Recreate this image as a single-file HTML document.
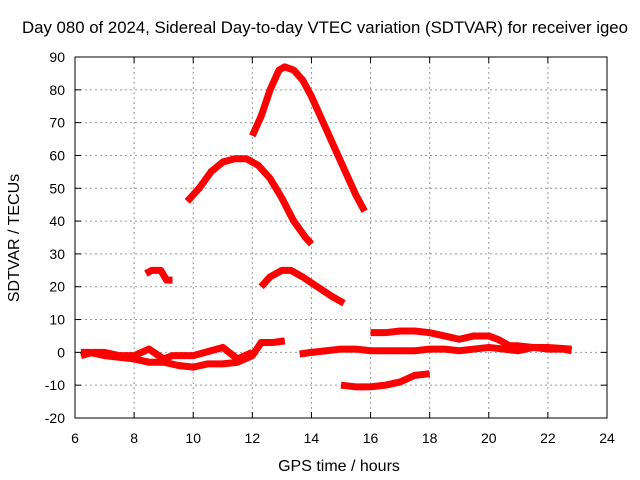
<!DOCTYPE html>
<html><head><meta charset="utf-8"><style>
body{margin:0;background:#fff;}
svg{display:block;font-family:"Liberation Sans",sans-serif;}
</style></head><body>
<svg id="chart" width="640" height="480">
<text x="325" y="33" text-anchor="middle" font-size="16.8">Day 080 of 2024, Sidereal Day-to-day VTEC variation (SDTVAR) for receiver igeo</text>
<text x="339" y="471" text-anchor="middle" font-size="16">GPS time / hours</text>
<text transform="translate(19,238) rotate(-90)" text-anchor="middle" font-size="16">SDTVAR / TECUs</text>
<g id="grid"></g><g id="series"></g><g id="axes"></g>
</svg>
<script>
const xTicks=[6,8,10,12,14,16,18,20,22,24];
const yTicks=[-20,-10,0,10,20,30,40,50,60,70,80,90];
const trackA_x=[12.0,12.3,12.6,12.9,13.1,13.4,13.7,14.0,14.4,14.8,15.2,15.5,15.8];
const trackA_y=[66,72,80,86,87,86,83,78,70,62,54,48,43];
const trackB_x=[9.8,10.2,10.6,11.0,11.4,11.8,12.2,12.6,13.0,13.4,13.8,14.0];
const trackB_y=[46,50,55,58,59,59,57,53,47,40,35,33];
const trackC_x=[8.4,8.6,8.9,9.1,9.3];
const trackC_y=[24,25,25,22,22];
const trackD_x=[12.3,12.6,13.0,13.3,13.7,14.2,14.7,15.1];
const trackD_y=[20,23,25,25,23,20,17,15];
const trackE_x=[16.0,16.5,17.0,17.5,18.0,18.5,19.0,19.5,20.0,20.3,20.7,21.0,21.5,22.0,22.8];
const trackE_y=[6,6,6.5,6.5,6,5,4,5,5,4,2,2,1.5,1.5,1];
const trackF_x=[15.0,15.5,16.0,16.5,17.0,17.5,18.0];
const trackF_y=[-10,-10.5,-10.5,-10,-9,-7,-6.5];
const trackG_x=[6.2,6.5,7.0,7.5,8.0,8.5,9.0,9.5,10.0,10.5,11.0,11.5,12.0,12.3,12.7,13.1];
const trackG_y=[0,0,-1,-1.5,-2,-3,-3,-4,-4.5,-3.5,-3.5,-3,-1,3,3,3.5];
const trackH_x=[13.6,14.0,14.5,15.0,15.5,16.0,16.5,17.0,17.5,18.0,18.5,19.0,19.5,20.0,20.5,21.0,21.5,22.0,22.5,22.8];
const trackH_y=[-0.5,0,0.5,1,1,0.5,0.5,0.5,0.5,1,1,0.5,1,1.5,1,0.5,1.5,1,1,0.5];
const trackI_x=[6.2,6.6,7.0,7.5,8.0,8.5,9.0,9.3,9.6,10.0,10.4,10.8,11.0,11.5,12.0];
const trackI_y=[-1,0,0,-1,-1,1,-2,-1,-1,-1,0,1,1.5,-2,0];
const tracks=[[trackA_x,trackA_y],[trackB_x,trackB_y],[trackC_x,trackC_y],[trackD_x,trackD_y],[trackE_x,trackE_y],[trackF_x,trackF_y],[trackG_x,trackG_y],[trackH_x,trackH_y],[trackI_x,trackI_y]];
const X0=75,X1=607,Y0=418,Y1=57;
function sx(v){return X0+(v-6)/(24-6)*(X1-X0);}
function sy(v){return Y0-(v+20)/110*(Y0-Y1);}
const NS="http://www.w3.org/2000/svg";
function mk(t,a,p){const e=document.createElementNS(NS,t);for(const k in a)e.setAttribute(k,a[k]);p.appendChild(e);return e;}
const grid=document.getElementById('grid'),axes=document.getElementById('axes'),ser=document.getElementById('series');
xTicks.forEach(t=>{const x=sx(t);
 if(t>6&&t<24){const g=mk('line',{x1:x,x2:x,y1:Y1,y2:Y0,stroke:'#999','stroke-dasharray':'2,3'},grid);
 
 }
 mk('line',{x1:x,x2:x,y1:Y0,y2:Y0-6,stroke:'#000'},axes);mk('line',{x1:x,x2:x,y1:Y1,y2:Y1+6,stroke:'#000'},axes);
 const l=mk('text',{x:x,y:Y0+25,'text-anchor':'middle','font-size':14},axes);l.textContent=t;
 
 });
yTicks.forEach(t=>{const y=sy(t);
 if(t>-20&&t<90){const g=mk('line',{x1:X0,x2:X1,y1:y,y2:y,stroke:'#999','stroke-dasharray':'2,3'},grid);
 
 }
 mk('line',{x1:X0,x2:X0+6,y1:y,y2:y,stroke:'#000'},axes);mk('line',{x1:X1,x2:X1-6,y1:y,y2:y,stroke:'#000'},axes);
 const l=mk('text',{x:X0-10,y:y+5,'text-anchor':'end','font-size':14},axes);l.textContent=t;
 
 });
const b=mk('rect',{x:X0,y:Y1,width:X1-X0,height:Y0-Y1,fill:'none',stroke:'#000'},axes);


tracks.forEach(([xs,ys])=>{const pts=xs.map((v,i)=>sx(v)+','+sy(ys[i])).join(' ');
 const p=mk('polyline',{points:pts,fill:'none',stroke:'#f00','stroke-width':7,'stroke-linejoin':'round','stroke-linecap':'butt'},ser);
 
 });
</script>
</body></html>
